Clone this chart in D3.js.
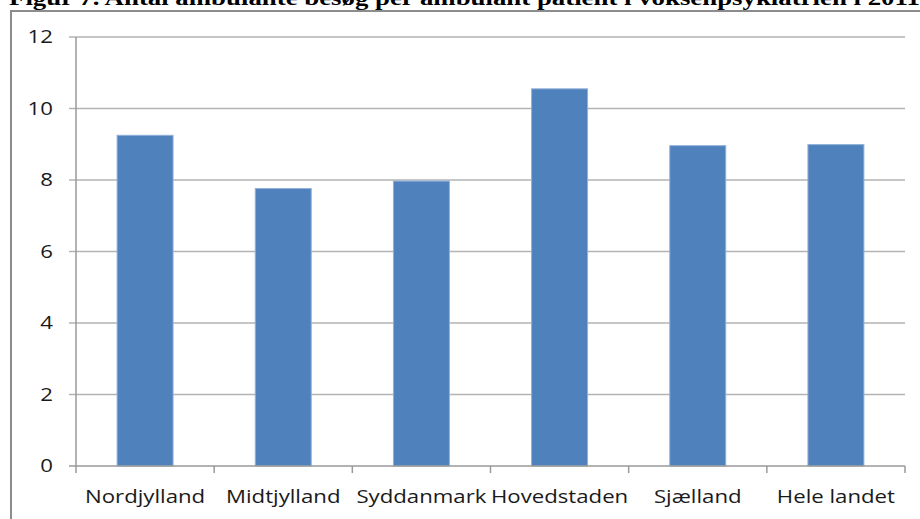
<!DOCTYPE html>
<html>
<head>
<meta charset="utf-8">
<script src="https://cdn.jsdelivr.net/npm/d3@7"></script>
<style>
  body { margin: 0; background: #fff; }
  svg { display: block; }
</style>
</head>
<body>
<div id="chart"></div>
<script>
// chart data
const regions = ["Nordjylland", "Midtjylland", "Syddanmark", "Hovedstaden", "Sjælland", "Hele landet"];
const visits = [9.25, 7.76, 7.97, 10.55, 8.96, 8.99];
const yTicks = [0, 2, 4, 6, 8, 10, 12];
const title = "Figur 7. Antal ambulante besøg per ambulant patient i voksenpsykiatrien i 2011";

const width = 920, height = 519;
const margin = { top: 37, right: 15, bottom: 53, left: 76 };
// the source picture is stretched sideways, so text gets a horizontal scale
const stretch = 1.2;

const svg = d3.select("#chart")
  .append("svg")
  .attr("width", width)
  .attr("height", height);

// title, cut off at the top edge like in the source
svg.append("text")
  .attr("transform", "translate(9,5) scale(1.22,1)")
  .attr("font-family", "Liberation Serif, Times New Roman, serif")
  .attr("font-weight", "bold")
  .attr("font-size", "22px")
  .attr("fill", "#000")
  .text(title);

// chart frame
svg.append("path")
  .attr("d", `M11,${height} L11,11 L${width},11`)
  .attr("fill", "none")
  .attr("stroke", "#8c8c8c")
  .attr("stroke-width", 2);

const x = d3.scaleBand()
  .domain(regions)
  .range([margin.left, width - margin.right])
  .paddingInner(0.595)
  .paddingOuter(0.2975);

const xOuter = d3.scaleBand()
  .domain(regions)
  .range([margin.left, width - margin.right]);

const y = d3.scaleLinear()
  .domain([0, 12])
  .range([height - margin.bottom, margin.top]);

// gridlines
svg.append("g")
  .selectAll("line")
  .data(yTicks.filter(d => d > 0))
  .join("line")
  .attr("x1", margin.left - 7)
  .attr("x2", width - margin.right)
  .attr("y1", d => y(d))
  .attr("y2", d => y(d))
  .attr("stroke", "#b3b3b3")
  .attr("stroke-width", 1.5);

// y axis line
svg.append("line")
  .attr("x1", margin.left).attr("x2", margin.left)
  .attr("y1", y(12)).attr("y2", y(0) + 7)
  .attr("stroke", "#9a9a9a")
  .attr("stroke-width", 1.5);

// bars
svg.append("g")
  .selectAll("rect")
  .data(regions)
  .join("rect")
  .attr("x", d => x(d))
  .attr("y", (d, i) => y(visits[i]))
  .attr("width", x.bandwidth())
  .attr("height", (d, i) => y(0) - y(visits[i]))
  .attr("fill", "#4f81bd")
  .attr("stroke", "#8fb0d9")
  .attr("stroke-width", 1);

// x axis line and ticks at category boundaries
svg.append("line")
  .attr("x1", margin.left - 7).attr("x2", width - margin.right)
  .attr("y1", y(0)).attr("y2", y(0))
  .attr("stroke", "#9a9a9a")
  .attr("stroke-width", 1.5);

svg.append("g")
  .selectAll("line")
  .data(regions.map(d => xOuter(d) + xOuter.bandwidth()))
  .join("line")
  .attr("x1", d => d).attr("x2", d => d)
  .attr("y1", y(0)).attr("y2", y(0) + 7)
  .attr("stroke", "#9a9a9a")
  .attr("stroke-width", 1.5);

// y tick labels
svg.append("g")
  .selectAll("text")
  .data(yTicks)
  .join("text")
  .attr("transform", d => `translate(53,${y(d)}) scale(${stretch},1)`)
  .attr("dy", "0.35em")
  .attr("text-anchor", "end")
  .attr("font-family", "Open Sans, sans-serif")
  .attr("font-size", "18.5px")
  .attr("fill", "#1a1a1a")
  .text(d => d);

// category labels
svg.append("g")
  .selectAll("text")
  .data(regions)
  .join("text")
  .attr("transform", d => `translate(${xOuter(d) + xOuter.bandwidth() / 2},503) scale(${stretch},1)`)
  .attr("text-anchor", "middle")
  .attr("font-family", "Open Sans, sans-serif")
  .attr("font-size", "18.5px")
  .attr("fill", "#1a1a1a")
  .text(d => d);
</script>
</body>
</html>
